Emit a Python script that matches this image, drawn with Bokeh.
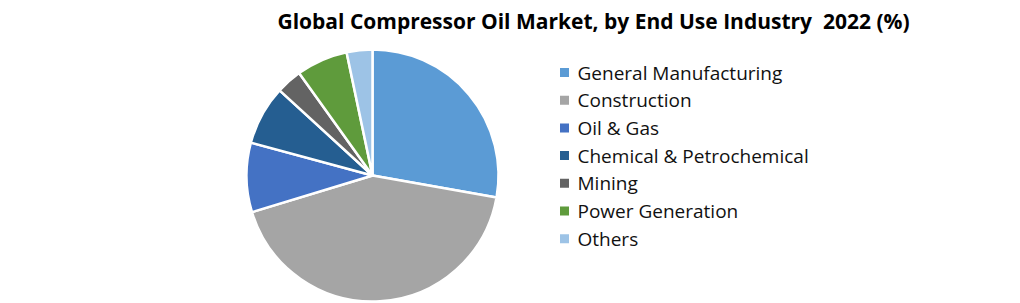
import numpy as np
from bokeh.plotting import figure
from bokeh.models import Range1d, ColumnDataSource
from bokeh.core.properties import value
from bokeh.embed import file_html
from bokeh.resources import INLINE

categories = ["General Manufacturing", "Construction", "Oil & Gas",
              "Chemical & Petrochemical", "Mining", "Power Generation", "Others"]
shares = [27.8, 42.5, 8.9, 7.6, 3.3, 6.6, 3.3]
colors = ["#5B9BD5", "#A5A5A5", "#4472C4", "#255E91", "#636363", "#5F9B3C", "#9DC3E6"]
title = "Global Compressor Oil Market, by End Use Industry\u00a0 2022 (%)"

W, H = 1020, 303
p = figure(width=W, height=H, output_backend="svg", toolbar_location=None,
           x_range=Range1d(0, W), y_range=Range1d(0, H), min_border=0)
p.axis.visible = False
p.grid.visible = False
p.outline_line_color = None
p.background_fill_color = "white"
p.border_fill_color = "white"

cx, cy, r = 372, H - 175, 126
vals = np.array(shares, dtype=float)
frac = vals / vals.sum()
cum = np.concatenate([[0], np.cumsum(frac)]) * 2 * np.pi
start = np.pi / 2 - cum[1:]
end = np.pi / 2 - cum[:-1]
src = ColumnDataSource(dict(start=start, end=end, color=colors, cat=categories))
p.wedge(x=cx, y=cy, radius=r, start_angle="start", end_angle="end",
        fill_color="color", line_color="white", line_width=2.5, source=src)

# legend
lx, ly0, dy = 564, H - 72, 27.7
ys = [ly0 - i * dy for i in range(len(categories))]
p.scatter(x=[lx] * len(categories), y=ys, marker="square", size=9,
          fill_color=colors, line_color=None)
p.text(x=[lx + 13] * len(categories), y=ys, text=categories,
       text_font=value("Open Sans"), text_font_size="19px",
       text_baseline="middle", text_align="left", text_color="#111111")

p.text(x=[593], y=[H - 20], text=[title], text_font=value("Open Sans"),
       text_font_size="21px", text_font_style="bold", text_baseline="middle",
       text_align="center", text_color="#000000")

open("out.html", "w").write(file_html(p, INLINE))
